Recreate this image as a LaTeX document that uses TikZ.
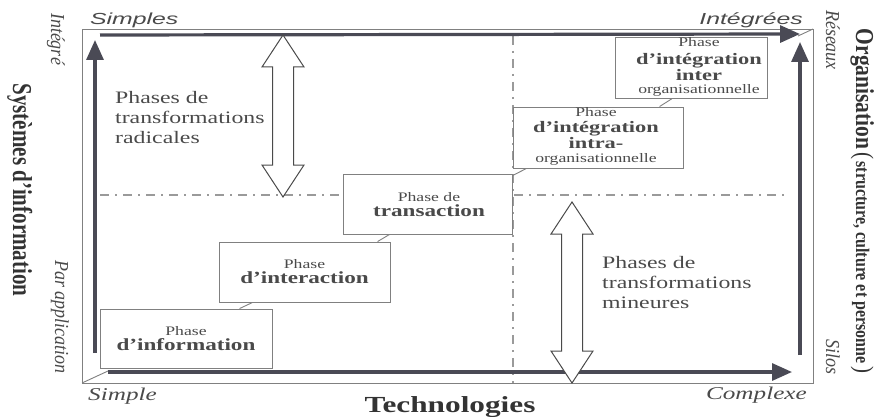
\documentclass[tikz,border=0pt]{standalone}
\usepackage{fontspec}
\setmainfont{Liberation Serif}
\setsansfont{Liberation Sans}
\usetikzlibrary{arrows.meta}
\definecolor{txt}{HTML}{4A4A4A}
\definecolor{dark}{HTML}{333333}
\definecolor{axis}{HTML}{4A4A55}
\definecolor{frm}{HTML}{808080}
\definecolor{dd}{HTML}{9A9A9A}
\newcommand\hs[2][1.36]{\scalebox{#1}[1]{#2}}
\newcommand\vs[2][1.25]{\scalebox{1}[#1]{#2}}
\newcommand\fs[1]{\fontsize{#1}{#1}\selectfont}
\newcommand\hollowdbl[3]{%
  \draw[hollow] (#1,#2) -- (#1+21,#2+32) -- (#1+10.5,#2+32) -- (#1+10.5,#3-32)
    -- (#1+21,#3-32) -- (#1,#3) -- (#1-21,#3-32) -- (#1-10.5,#3-32)
    -- (#1-10.5,#2+32) -- (#1-21,#2+32) -- cycle;}
\begin{document}
\begin{tikzpicture}[x=1pt,y=-1pt,
  every node/.style={inner sep=0pt, text=txt},
  phasebox/.style={draw=frm, line width=0.9pt, fill=white, inner sep=0pt},
  thickaxis/.style={draw=axis, line width=3.2pt, -{Triangle[length=20pt,width=17pt]}},
  dashdot/.style={draw=dd, line width=1.3pt, dash pattern=on 9pt off 6pt on 2pt off 6pt},
  hollow/.style={draw=txt, line width=1pt, fill=white},
  link/.style={draw=frm, line width=0.9pt},
  vlabel/.style={rotate=-90, anchor=base},
]
\useasboundingbox (0,0) rectangle (877,417);
% frame
\draw[frm, line width=0.9pt] (82,29) rectangle (813,383);
\draw[frm, line width=0.9pt] (82,383) -- (108,371);
\draw[frm, line width=0.9pt] (813,29) -- (798,36);
% dash-dot lines
\draw[dashdot] (100,195) -- (785,195);
\draw[dashdot] (513,36) -- (513,383);
% thick axes
\coordinate (bx0) at (108,372); \coordinate (bx1) at (792,372);
\coordinate (lx0) at (95,353);  \coordinate (lx1) at (95,40);
\coordinate (tx0) at (100,35);  \coordinate (tx1) at (800,34);
\coordinate (rx0) at (800,355); \coordinate (rx1) at (800,42);
\draw[thickaxis] (bx0) -- (bx1);
\draw[thickaxis] (lx0) -- (lx1);
\draw[thickaxis] (tx0) -- (tx1);
\draw[thickaxis] (rx0) -- (rx1);
% hollow double arrows
\hollowdbl{283}{35}{197}
\hollowdbl{572}{202}{383}
% boxes
\node[phasebox, minimum width=172pt, minimum height=59pt] (info) at (186,338.5) {};
\node[phasebox, minimum width=171pt, minimum height=60pt] (inte) at (304.5,272) {};
\node[phasebox, minimum width=169pt, minimum height=60pt] (tran) at (427.5,204) {};
\node[phasebox, minimum width=170pt, minimum height=61pt] (intra) at (598,137.5) {};
\node[phasebox, minimum width=152pt, minimum height=61pt] (inter) at (691,68) {};
% links between boxes
\draw[link] ([xshift=140pt]info.north west) -- ([xshift=34pt]inte.south west);
\draw[link] ([xshift=159pt]inte.north west) -- ([xshift=47pt]tran.south west);
\draw[link] ([yshift=-2pt]tran.north east) -- ([xshift=14pt]intra.south west);
\draw[link] ([xshift=147pt]intra.north west) -- ([xshift=57pt]inter.south west);
% box texts
\node[anchor=base] (info1) at (186,335) {\fs{13}\hs{Phase}};
\node[anchor=base] (info2) at (186,350) {\fs{17}\bfseries\hs{d’information}};
\node[anchor=base] (inte1) at (304.5,268) {\fs{13}\hs{Phase}};
\node[anchor=base] (inte2) at (304.5,283) {\fs{17}\bfseries\hs{d’interaction}};
\node[anchor=base] (tran1) at (429,201) {\fs{13}\hs{Phase de}};
\node[anchor=base] (tran2) at (429,216) {\fs{17}\bfseries\hs{transaction}};
\node[anchor=base] (intra1) at (596,117) {\fs{13}\hs{Phase}};
\node[anchor=base] (intra2) at (596,132.5) {\fs{16}\bfseries\hs[1.4]{d’intégration}};
\node[anchor=base] (intra3) at (596,148) {\fs{16}\bfseries\hs[1.4]{intra-}};
\node[anchor=base] (intra4) at (596,162.5) {\fs{13}\hs{organisationnelle}};
\node[anchor=base] (inter1) at (699,47) {\fs{13}\hs{Phase}};
\node[anchor=base] (inter2) at (699,65) {\fs{16}\bfseries\hs[1.4]{d’intégration}};
\node[anchor=base] (inter3) at (699,80.5) {\fs{16}\bfseries\hs[1.4]{inter}};
\node[anchor=base] (inter4) at (699,94) {\fs{13}\hs{organisationnelle}};
% free texts
\node[anchor=north west, align=left, font=\fontsize{17.5}{20}\selectfont] (rad) at (115,91)
  {\hs{Phases de}\\\hs{transformations}\\\hs{radicales}};
\node[anchor=north west, align=left, font=\fontsize{17.5}{20}\selectfont] (min) at (602,256)
  {\hs{Phases de}\\\hs{transformations}\\\hs{mineures}};
% axis labels (horizontal)
\node[anchor=base west, font=\sffamily\itshape\fontsize{16}{16}\selectfont] (simples) at (90,25) {\hs[1.55]{Simples}};
\node[anchor=base east, font=\sffamily\itshape\fontsize{16}{16}\selectfont] (integrees) at (803,25) {\hs[1.55]{Intégrées}};
\node[anchor=base west, font=\itshape\fontsize{18}{18}\selectfont] (simple) at (88,400) {\hs[1.4]{Simple}};
\node[anchor=base east, font=\itshape\fontsize{18}{18}\selectfont] (complexe) at (807,399) {\hs[1.4]{Complexe}};
\node[anchor=base, font=\bfseries\fontsize{23}{23}\selectfont, text=dark] (techno) at (450,412) {\hs{Technologies}};
% axis labels (vertical)
\node[vlabel, font=\itshape\fontsize{18}{18}\selectfont] (integre) at (51,39) {\vs[1.1]{Intégré}};
\node[vlabel, font=\itshape\fontsize{18}{18}\selectfont] (parappl) at (55,317) {\vs[1.1]{Par application}};
\node[vlabel, font=\bfseries\fontsize{21}{21}\selectfont, text=dark] (si) at (13,190) {\vs[1.3]{Systèmes d’information}};
\node[vlabel, font=\itshape\fontsize{18}{18}\selectfont] (reseaux) at (826,40) {\vs[1.1]{Réseaux}};
\node[vlabel, font=\itshape\fontsize{18}{18}\selectfont] (silos) at (826,357) {\vs[1.1]{Silos}};
\node[vlabel, text=dark] (orga) at (856,201)
  {\vs[1.2]{{\bfseries\fontsize{21.5}{21.5}\selectfont Organisation} {\fontsize{21}{21}\selectfont (} {\fontsize{16}{16}\selectfont\bfseries structure, culture et personne} {\fontsize{21}{21}\selectfont )}}};
\end{tikzpicture}
\end{document}
